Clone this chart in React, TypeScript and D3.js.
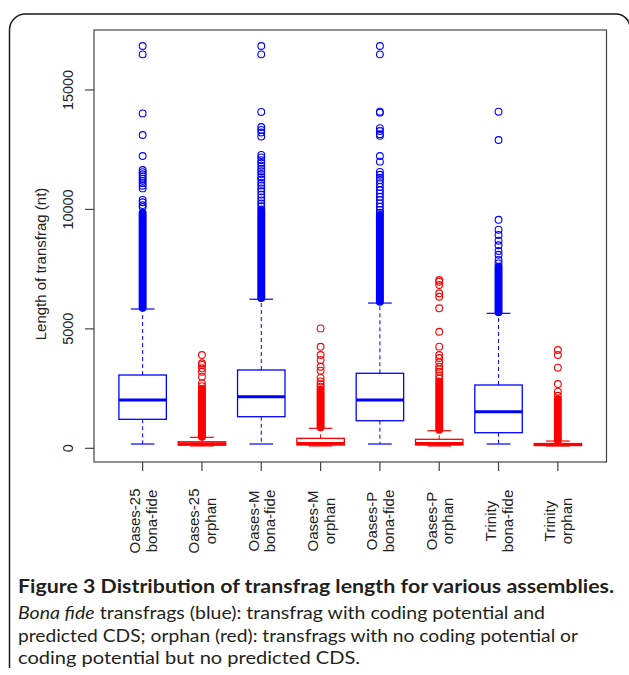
import React, { useEffect, useRef } from "react";
import * as d3 from "d3";

const WIDTH = 629;
const HEIGHT = 675;

// one box per assembly / transfrag class
const assemblies = ["Oases-25", "Oases-25", "Oases-M", "Oases-M", "Oases-P", "Oases-P", "Trinity", "Trinity"];
const classes = ["bona-fide", "orphan", "bona-fide", "orphan", "bona-fide", "orphan", "bona-fide", "orphan"];

// box statistics, transfrag length (nt)
const lowerWhiskers = [180, 100, 180, 100, 180, 100, 180, 100];
const lowerQuartiles = [1214, 130, 1323, 138, 1155, 138, 653, 115];
const medians = [2022, 190, 2160, 200, 2022, 200, 1532, 160];
const upperQuartiles = [3068, 275, 3278, 418, 3140, 377, 2650, 200];
const upperWhiskers = [5831, 460, 6240, 837, 6080, 736, 5650, 305];

// stretches where outliers are so packed they merge into a solid column
const denseOutlierLow = [5880, 480, 6290, 880, 6130, 780, 5700, 340];
const denseOutlierHigh = [9850, 2440, 10000, 2450, 9770, 2800, 7600, 2050];

// outliers that can still be told apart
const outliersOases25Bona = [16840, 16490, 14020, 13115, 12235, 11650, 11560, 11470, 11380, 11290, 11200, 11100, 10990, 10880, 10400, 10300, 10180, 10100];
const outliersOases25Orphan = [3905, 3560, 3490, 3350, 3205, 3000, 2720, 2600, 2500];
const outliersOasesMBona = [16840, 16490, 14080, 13450, 13330, 13220, 13050, 12280, 12180, 12060, 11950, 11830, 11700, 11600, 11480, 11350, 11250, 11120, 11000, 10880, 10760, 10620, 10500, 10380, 10250, 10130];
const outliersOasesMOrphan = [5020, 4250, 3905, 3700, 3415, 3250, 2945, 2800, 2680, 2580];
const outliersOasesPBona = [16840, 16490, 14090, 14050, 13400, 13280, 13150, 13080, 12235, 12000, 11570, 11450, 11330, 11230, 11100, 10940, 10800, 10670, 10530, 10390, 10250, 10110, 9980, 9860];
const outliersOasesPOrphan = [7045, 6975, 6835, 6490, 6345, 5860, 4880, 4255, 3905, 3780, 3600, 3415, 3300, 3205, 3050, 2920];
const outliersTrinityBona = [14090, 12905, 9565, 9150, 8930, 8690, 8500, 8260, 8100, 7880, 7740];
const outliersTrinityOrphan = [4115, 3905, 3375, 2690, 2370, 2200];

const yTicks = [0, 5000, 10000, 15000];

const captionTitle = "Figure 3 Distribution of transfrag length for various assemblies.";
const captionLines = [
  ["Bona fide", " transfrags (blue): transfrag with coding potential and"],
  ["", "predicted CDS; orphan (red): transfrags with no coding potential or"],
  ["", "coding potential but no predicted CDS."],
];

interface BoxDatum {
  index: number;
  assembly: string;
  kind: string;
  low: number;
  q1: number;
  median: number;
  q3: number;
  high: number;
  denseLow: number;
  denseHigh: number;
  outliers: number[];
}

export default function App() {
  const svgRef = useRef<SVGSVGElement>(null);

  useEffect(() => {
    if (!svgRef.current) return;
    const svg = d3.select(svgRef.current);
    svg.selectAll("*").remove();

    const outlierSets = [
      outliersOases25Bona,
      outliersOases25Orphan,
      outliersOasesMBona,
      outliersOasesMOrphan,
      outliersOasesPBona,
      outliersOasesPOrphan,
      outliersTrinityBona,
      outliersTrinityOrphan,
    ];
    const boxes: BoxDatum[] = assemblies.map((a, i) => ({
      index: i + 1,
      assembly: a,
      kind: classes[i],
      low: lowerWhiskers[i],
      q1: lowerQuartiles[i],
      median: medians[i],
      q3: upperQuartiles[i],
      high: upperWhiskers[i],
      denseLow: denseOutlierLow[i],
      denseHigh: denseOutlierHigh[i],
      outliers: outlierSets[i],
    }));

    // R style: x from 0.5..8.5 padded by 4%
    const x = d3.scaleLinear().domain([0.18, 8.82]).range([94, 606.5]);
    const y = d3.scaleLinear().domain([-573, 17510]).range([462, 30]);
    const unit = x(2) - x(1);
    const color = (d: BoxDatum) => (d.kind === "orphan" ? "#ff0000" : "#0000ff");
    const r = 3.4;

    // figure frame with rounded corners
    svg
      .append("path")
      .attr("d", "M9.5,668 V30 A16,16 0 0 1 25.5,14 H616 A14,14 0 0 1 630,28")
      .attr("fill", "none")
      .attr("stroke", "#1a1a1a")
      .attr("stroke-width", 1.5);

    const g = svg.append("g");

    // whiskers (dashed)
    const whisk = g.selectAll(".whisker").data(boxes).enter().append("g");
    whisk
      .append("line")
      .attr("x1", (d) => x(d.index))
      .attr("x2", (d) => x(d.index))
      .attr("y1", (d) => y(d.q3))
      .attr("y2", (d) => y(d.high))
      .attr("stroke", color)
      .attr("stroke-width", 1)
      .attr("stroke-dasharray", "4,3");
    whisk
      .append("line")
      .attr("x1", (d) => x(d.index))
      .attr("x2", (d) => x(d.index))
      .attr("y1", (d) => y(d.q1))
      .attr("y2", (d) => y(d.low))
      .attr("stroke", color)
      .attr("stroke-width", 1)
      .attr("stroke-dasharray", "4,3");
    // staples
    ["high", "low"].forEach((k) => {
      whisk
        .append("line")
        .attr("x1", (d) => x(d.index) - unit * 0.2)
        .attr("x2", (d) => x(d.index) + unit * 0.2)
        .attr("y1", (d) => y((d as any)[k]))
        .attr("y2", (d) => y((d as any)[k]))
        .attr("stroke", color)
        .attr("stroke-width", 1.2);
    });

    // boxes
    g.selectAll(".box")
      .data(boxes)
      .enter()
      .append("rect")
      .attr("x", (d) => x(d.index) - unit * 0.4)
      .attr("width", unit * 0.8)
      .attr("y", (d) => y(d.q3))
      .attr("height", (d) => Math.max(1, y(d.q1) - y(d.q3)))
      .attr("fill", "white")
      .attr("stroke", color)
      .attr("stroke-width", 1.3);

    // medians
    g.selectAll(".median")
      .data(boxes)
      .enter()
      .append("line")
      .attr("x1", (d) => x(d.index) - unit * 0.4)
      .attr("x2", (d) => x(d.index) + unit * 0.4)
      .attr("y1", (d) => y(d.median))
      .attr("y2", (d) => y(d.median))
      .attr("stroke", color)
      .attr("stroke-width", 3);

    // dense outlier columns
    g.selectAll(".dense")
      .data(boxes)
      .enter()
      .append("rect")
      .attr("x", (d) => x(d.index) - r - 0.6)
      .attr("width", 2 * r + 1.2)
      .attr("y", (d) => y(d.denseHigh) - r - 0.6)
      .attr("height", (d) => y(d.denseLow) - y(d.denseHigh) + 2 * r + 1.2)
      .attr("rx", r + 0.6)
      .attr("fill", color);

    // individual outliers
    boxes.forEach((b) => {
      g.selectAll(null)
        .data(b.outliers)
        .enter()
        .append("circle")
        .attr("cx", x(b.index))
        .attr("cy", (v) => y(v))
        .attr("r", r)
        .attr("fill", "none")
        .attr("stroke", color(b))
        .attr("stroke-width", 1.1);
    });

    // plot frame
    svg
      .append("rect")
      .attr("x", x(0.18))
      .attr("y", y(17510))
      .attr("width", x(8.82) - x(0.18))
      .attr("height", y(-573) - y(17510))
      .attr("fill", "none")
      .attr("stroke", "#444")
      .attr("stroke-width", 1.2);

    // y axis
    const yAxis = svg.append("g");
    yAxis
      .selectAll("line")
      .data(yTicks)
      .enter()
      .append("line")
      .attr("x1", x(0.18) - 9)
      .attr("x2", x(0.18))
      .attr("y1", (d) => y(d))
      .attr("y2", (d) => y(d))
      .attr("stroke", "#444")
      .attr("stroke-width", 1.2);
    yAxis
      .selectAll("text")
      .data(yTicks)
      .enter()
      .append("text")
      .attr("transform", (d) => `translate(73,${y(d)}) rotate(-90)`)
      .attr("text-anchor", "middle")
      .attr("font-family", "'Liberation Sans', Arial, sans-serif")
      .attr("font-size", 14.4)
      .attr("fill", "#222")
      .text((d) => String(d));
    svg
      .append("text")
      .attr("transform", `translate(45.5,264) rotate(-90)`)
      .attr("text-anchor", "middle")
      .attr("font-family", "'Liberation Sans', Arial, sans-serif")
      .attr("font-size", 15)
      .attr("fill", "#222")
      .text("Length of transfrag (nt)");

    // x axis ticks and two-line labels
    const xAxis = svg.append("g");
    xAxis
      .selectAll("line")
      .data(boxes)
      .enter()
      .append("line")
      .attr("x1", (d) => x(d.index))
      .attr("x2", (d) => x(d.index))
      .attr("y1", y(-573))
      .attr("y2", y(-573) + 9)
      .attr("stroke", "#444")
      .attr("stroke-width", 1.2);
    const labels = xAxis
      .selectAll(".xlabel")
      .data(boxes)
      .enter()
      .append("g")
      .attr("font-family", "'Liberation Sans', Arial, sans-serif")
      .attr("font-size", 15)
      .attr("fill", "#222")
      .attr("text-anchor", "middle");
    labels
      .append("text")
      .attr("transform", (d) => `translate(${x(d.index) - 2.5},521) rotate(-90)`)
      .text((d) => d.assembly);
    labels
      .append("text")
      .attr("transform", (d) => `translate(${x(d.index) + 14},521) rotate(-90)`)
      .text((d) => d.kind);

    // caption
    const cap = svg
      .append("g")
      .attr("font-family", "Lato, 'Open Sans', sans-serif")
      .attr("fill", "#231f20");
    cap
      .append("text")
      .attr("x", 18)
      .attr("y", 593)
      .attr("font-size", 19)
      .attr("font-weight", "bold")
      .attr("textLength", 596)
      .attr("lengthAdjust", "spacingAndGlyphs")
      .text(captionTitle);
    const lineWidths = [527, 560, 342];
    const lineY = [619, 642, 664];
    captionLines.forEach((parts, i) => {
      const t = cap
        .append("text")
        .attr("x", 18)
        .attr("y", lineY[i])
        .attr("font-size", 18)
        .attr("textLength", lineWidths[i])
        .attr("lengthAdjust", "spacingAndGlyphs");
      if (parts[0]) t.append("tspan").attr("font-style", "italic").text(parts[0]);
      t.append("tspan").text(parts[1]);
    });
  }, []);

  return (
    <svg
      ref={svgRef}
      width={WIDTH}
      height={HEIGHT}
      style={{ position: "absolute", left: 0, top: 0, background: "white" }}
    />
  );
}
